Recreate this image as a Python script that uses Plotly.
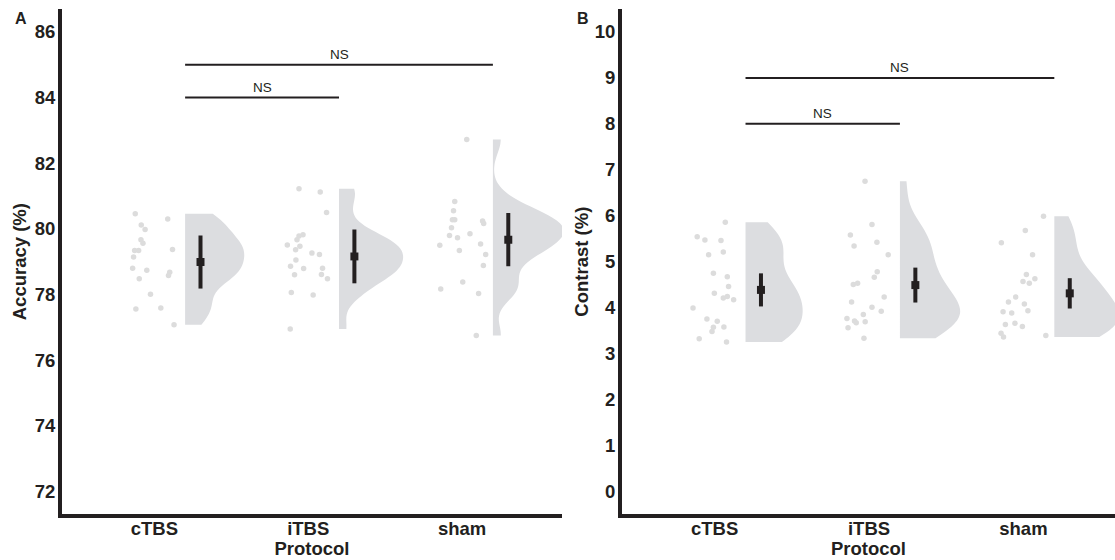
import numpy as np
import plotly.graph_objects as go

categories = ["cTBS", "iTBS", "sham"]
cat_pos = [1, 2, 3]

# Panel A: Accuracy (%) - individual values and horizontal jitter
acc_ctbs = [80.46, 80.30, 80.12, 79.98, 79.67, 79.56, 79.37, 79.34, 79.34, 79.14,
            78.80, 78.74, 78.68, 78.58, 78.48, 78.01, 77.56, 77.59, 77.08]
acc_ctbs_jit = [-0.124, 0.087, -0.085, -0.060, -0.087, -0.074, 0.118, -0.128, -0.102, -0.135,
                -0.141, -0.049, 0.100, 0.092, -0.098, -0.025, -0.120, 0.042, 0.128]
acc_itbs = [81.22, 81.12, 80.50, 79.82, 79.78, 79.67, 79.51, 79.47, 79.36, 79.26,
            79.22, 79.05, 78.86, 78.79, 78.80, 78.60, 78.61, 78.48, 78.06, 77.98, 76.95]
acc_itbs_jit = [-0.060, 0.078, 0.119, -0.034, -0.060, -0.073, -0.136, -0.054, -0.082, 0.024,
                0.073, -0.080, -0.115, -0.030, 0.093, -0.089, 0.086, 0.125, -0.110, 0.032, -0.117]
acc_sham = [82.72, 80.83, 80.55, 80.28, 80.28, 80.24, 80.16, 80.03, 79.80, 79.73,
            79.85, 79.50, 79.54, 79.34, 79.22, 78.88, 78.38, 78.17, 78.03, 76.75]
acc_sham_jit = [0.030, -0.048, -0.056, -0.063, -0.048, 0.133, 0.140, -0.069, -0.082, -0.030,
                0.051, -0.145, 0.120, -0.018, 0.153, 0.138, 0.004, -0.139, 0.107, 0.092]
acc_mean = [78.99, 79.16, 79.67]
acc_err = [0.81, 0.82, 0.81]

# Panel B: Contrast (%)
con_ctbs = [5.86, 5.54, 5.47, 5.46, 5.21, 5.15, 4.75, 4.67, 4.46, 4.31,
            4.21, 4.24, 4.17, 3.99, 3.75, 3.70, 3.57, 3.48, 3.58, 3.32, 3.25]
con_ctbs_jit = [0.069, -0.113, -0.063, 0.041, 0.056, -0.039, -0.008, 0.082, 0.090, -0.002,
                0.056, 0.082, 0.123, -0.140, -0.050, 0.017, -0.008, -0.017, 0.060, -0.100, 0.077]
con_itbs = [6.75, 5.81, 5.58, 5.42, 5.34, 5.15, 4.78, 4.66, 4.50, 4.53,
            4.23, 4.12, 4.01, 3.92, 3.85, 3.76, 3.71, 3.67, 3.69, 3.56, 3.33]
con_itbs_jit = [-0.026, 0.019, -0.121, 0.051, -0.097, 0.124, 0.053, 0.034, -0.102, -0.074,
                0.098, -0.113, 0.019, 0.079, -0.037, -0.143, -0.094, -0.083, -0.025, -0.136, -0.033]
con_sham = [5.99, 5.68, 5.41, 5.15, 4.72, 4.57, 4.53, 4.63, 4.23, 4.12,
            4.08, 3.91, 3.88, 3.93, 3.63, 3.66, 3.59, 3.44, 3.36, 3.39]
con_sham_jit = [0.130, 0.012, -0.143, 0.059, 0.019, -0.003, 0.038, 0.074, -0.050, -0.097,
                0.006, -0.132, -0.076, 0.029, -0.117, -0.055, -0.007, -0.145, -0.129, 0.145]
con_mean = [4.385, 4.49, 4.31]
con_err = [0.36, 0.38, 0.33]

# significance comparisons: (group a, group b, bar height) and label
acc_comparisons = [(1, 2, 84.0), (1, 3, 85.0)]
con_comparisons = [(1, 2, 8.0), (1, 3, 9.0)]
sig_label = "NS"

# style
INK = "#231f20"
POINT_COL = "#dcdcdc"
VIOLIN_COL = "#dcdde0"
FONT = "Liberation Sans, Arial, sans-serif"
violin_nudge = 0.2
mean_nudge = 0.3
acc_violin_halfwidth = [0.384, 0.416, 0.46]
con_violin_halfwidth = [0.37, 0.39, 0.42]


def bw_nrd0(v):
    v = np.asarray(v, dtype=float)
    sd = v.std(ddof=1)
    q75, q25 = np.percentile(v, [75, 25])
    lo = min(sd, (q75 - q25) / 1.34)
    return 0.9 * lo * len(v) ** (-0.2)


W, H = 1115, 560
fig = go.Figure()


def add_panel(groups, jits, means, errs, comps, halfw, xa, ya):
    for i, (vals, jit) in enumerate(zip(groups, jits)):
        pos = cat_pos[i]
        fig.add_trace(go.Violin(
            y=vals, x0=pos + violin_nudge, side="positive", spanmode="hard",
            bandwidth=bw_nrd0(vals), points=False, width=2 * halfw[i],
            scalemode="width", fillcolor=VIOLIN_COL, line=dict(width=0, color=VIOLIN_COL),
            opacity=1, showlegend=False, hoverinfo="skip", xaxis=xa, yaxis=ya))
        fig.add_trace(go.Scatter(
            x=[pos + j for j in jit], y=vals, mode="markers",
            marker=dict(size=5.5, color=POINT_COL), showlegend=False,
            hoverinfo="skip", xaxis=xa, yaxis=ya))
    fig.add_trace(go.Scatter(
        x=[p + mean_nudge for p in cat_pos], y=means, mode="markers",
        marker=dict(symbol="square", size=8, color=INK),
        error_y=dict(type="data", array=errs, thickness=4, width=0, color=INK),
        showlegend=False, xaxis=xa, yaxis=ya))
    for a, b, h in comps:
        xa0 = a + violin_nudge
        xb0 = b + violin_nudge
        fig.add_trace(go.Scatter(
            x=[xa0, xb0], y=[h, h], mode="lines", line=dict(color=INK, width=2),
            showlegend=False, hoverinfo="skip", xaxis=xa, yaxis=ya))
        fig.add_annotation(x=(xa0 + xb0) / 2, y=h, xref=xa, yref=ya, text=sig_label,
                           showarrow=False, yanchor="bottom", yshift=1,
                           font=dict(family=FONT, size=13.5, color=INK))


add_panel([acc_ctbs, acc_itbs, acc_sham], [acc_ctbs_jit, acc_itbs_jit, acc_sham_jit],
          acc_mean, acc_err, acc_comparisons, acc_violin_halfwidth, "x", "y")
add_panel([con_ctbs, con_itbs, con_sham], [con_ctbs_jit, con_itbs_jit, con_sham_jit],
          con_mean, con_err, con_comparisons, con_violin_halfwidth, "x2", "y2")

ydom = [(560 - 514.3) / H, (560 - 9) / H]
tickfont = dict(family=FONT, size=18.5, color=INK)
titlefont = dict(family=FONT, size=18.5, color=INK)
common_x = dict(showgrid=False, zeroline=False, showline=True, linewidth=4, linecolor=INK,
                ticks="", tickvals=cat_pos, ticktext=[f"<b>{c}</b>" for c in categories],
                tickfont=tickfont, ticklabelstandoff=-6,
                title=dict(text="<b>Protocol</b>", font=titlefont, standoff=0))
common_y = dict(showgrid=False, zeroline=False, showline=True, linewidth=4, linecolor=INK,
                ticks="", tickfont=tickfont, ticklabelstandoff=-1)

fig.update_layout(
    width=W, height=H, margin=dict(l=0, r=0, t=0, b=0),
    plot_bgcolor="white", paper_bgcolor="white", violinmode="overlay",
    font=dict(family=FONT, color=INK),
    xaxis=dict(common_x, domain=[62 / W, 562 / W], range=[0.4, 3.649], anchor="y"),
    xaxis2=dict(common_x, domain=[622 / W, 1.0], range=[0.4, 3.593], anchor="y2"),
    yaxis=dict(common_y, domain=ydom, range=[71.3, 86.7], tickvals=list(range(72, 87, 2)),
               ticktext=[f"<b>{v}</b>" for v in range(72, 87, 2)],
               title=dict(text="<b>Accuracy (%)</b>", font=titlefont, standoff=4), anchor="x"),
    yaxis2=dict(common_y, domain=ydom, range=[-0.5, 10.5], tickvals=list(range(0, 11)),
                ticktext=[f"<b>{v}</b>" for v in range(0, 11)],
                title=dict(text="<b>Contrast (%)</b>", font=titlefont, standoff=2), anchor="x2"),
)

fig.add_annotation(x=21 / W, y=1 - 18.5 / H, xref="paper", yref="paper", text="<b>A</b>",
                   xanchor="center", yanchor="middle",
                   showarrow=False, font=dict(family=FONT, size=16, color=INK))
fig.add_annotation(x=582.5 / W, y=1 - 18.5 / H, xref="paper", yref="paper", text="<b>B</b>",
                   xanchor="center", yanchor="middle",
                   showarrow=False, font=dict(family=FONT, size=16, color=INK))

fig.write_html("out.html", config={"displayModeBar": False},
               post_script="document.body.style.margin='0';")
